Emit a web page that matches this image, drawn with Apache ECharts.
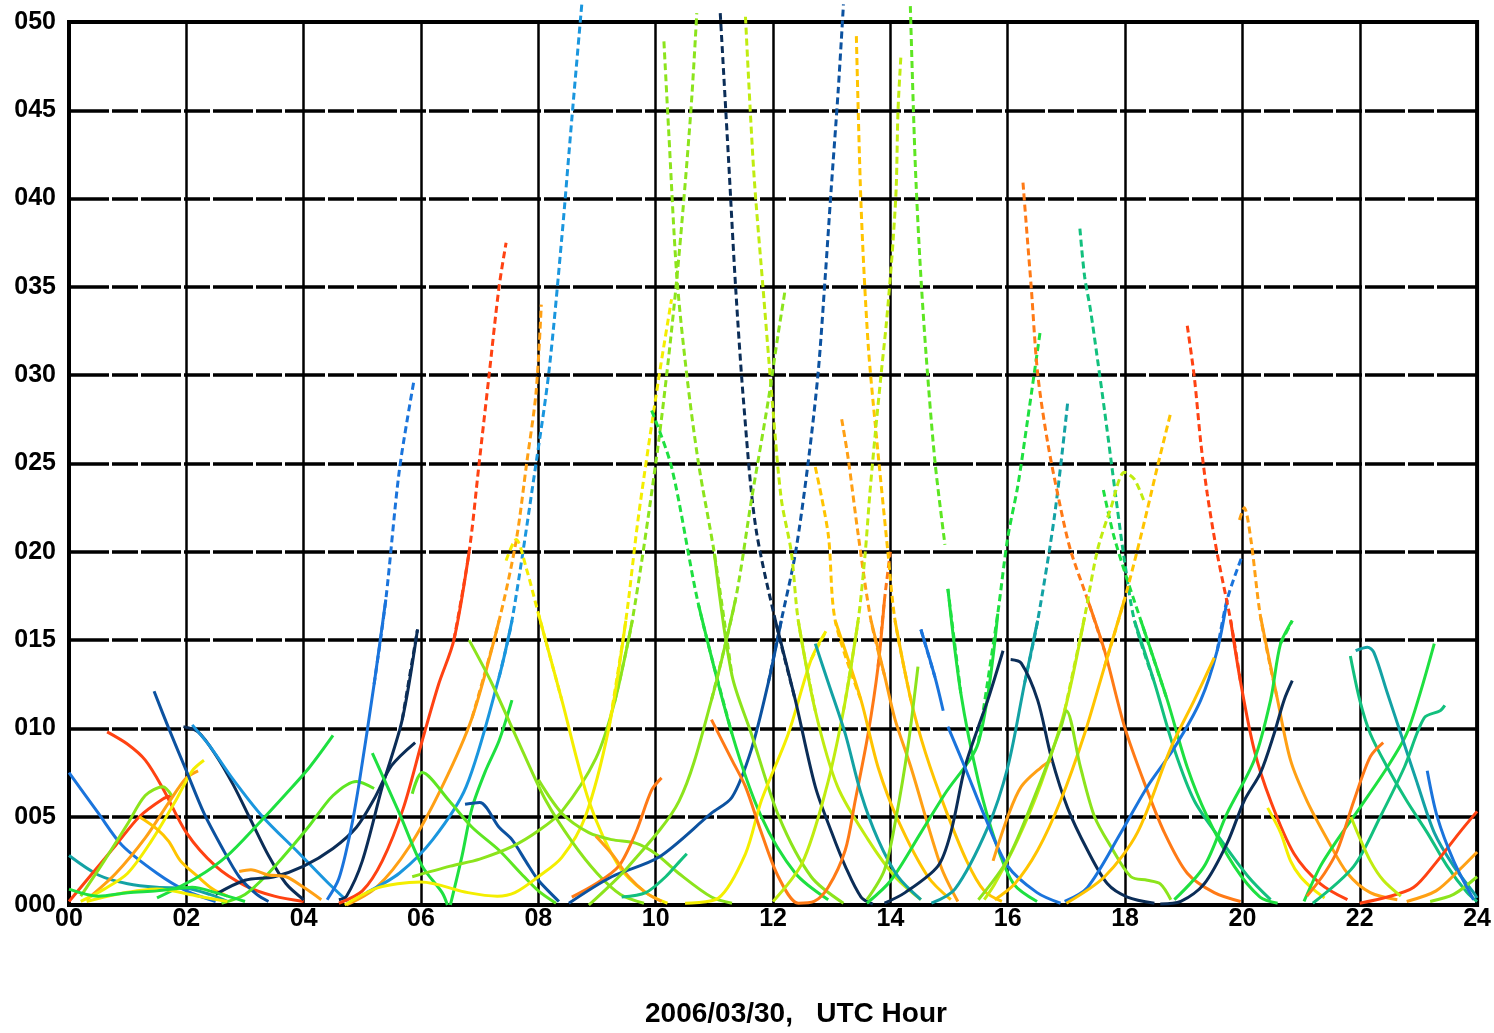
<!DOCTYPE html>
<html>
<head>
<meta charset="utf-8">
<script src="https://cdn.jsdelivr.net/npm/echarts@6/dist/echarts.min.js"></script>
<style>
  html, body { margin: 0; padding: 0; background: #fff; }
  #chart { width: 1494px; height: 1033px; }
</style>
</head>
<body>
<div id="chart"></div>
<script>
// tick labels
const xTicks = ['00', '02', '04', '06', '08', '10', '12', '14', '16', '18', '20', '22', '24']
const yTicks = ['000', '005', '010', '015', '020', '025', '030', '035', '040', '045', '050']
const axisTitle = '2006/03/30,   UTC Hour'

// tracks: [UTC hour, value]
// 00 - 04 h
const t01 = [[0, 7.5], [0.5, 5.2], [0.9, 3.4], [1.5, 1.8], [2, 0.8], [2.5, 0.2]]
const t02 = [[0, 2.8], [0.5, 1.7], [1, 1.2], [1.5, 1.0], [2, 0.95], [2.4, 0.6], [2.7, 0.2]]
const t03 = [[0.65, 9.8], [1.0, 9.1], [1.3, 8.2], [1.6, 6.6], [2.0, 4.1], [2.5, 2.2], [3.0, 1.1], [3.5, 0.5], [4.0, 0.2]]
const t04 = [[0, 0.2], [0.4, 1.8], [0.8, 3.4], [1.2, 5.0], [1.6, 6.0], [1.75, 6.2]]
const t05 = [[0.2, 0.5], [0.6, 2.5], [1.0, 4.6], [1.3, 6.2], [1.6, 6.7], [1.75, 6.2]]
const t06 = [[0.3, 0.3], [0.8, 1.8], [1.3, 3.8], [1.7, 5.8], [2.0, 7.2], [2.2, 7.6]]
const t07 = [[0.2, 0.2], [0.6, 0.9], [1.0, 1.8], [1.4, 3.6], [1.8, 5.8], [2.1, 7.6], [2.3, 8.2]]
const t08 = [[1.2, 5.0], [1.5, 4.3], [1.7, 3.6], [1.9, 2.5], [2.2, 1.6], [2.45, 0.9], [2.7, 0.5]]
const t09 = [[1.45, 12.1], [1.7, 10], [2.0, 7.6], [2.3, 5.2], [2.6, 3.3], [2.9, 1.6], [3.2, 0.6], [3.4, 0.2]]
const t10 = [[1.95, 10.1], [2.2, 9.8], [2.5, 8.5], [2.8, 6.8], [3.1, 4.8], [3.4, 2.8], [3.7, 1.2], [4.0, 0.3]]
const t11 = [[2.1, 10.2], [2.4, 9.0], [2.8, 7.1], [3.3, 5.0], [3.9, 3.0], [4.4, 1.3], [4.75, 0.2]]
const t12 = [[1.5, 0.4], [2.2, 1.6], [2.7, 2.8], [3.2, 4.5], [3.7, 6.3], [4.1, 7.8], [4.5, 9.6]]
const t13 = [[2.6, 0.1], [3.0, 0.6], [3.4, 1.8], [3.8, 3.3], [4.1, 4.5], [4.5, 6.2], [4.9, 7.0], [5.2, 6.6]]
const t14 = [[2.5, 0.6], [3.0, 1.4], [3.5, 1.6], [4.0, 2.2], [4.5, 3.2], [4.9, 4.4], [5.2, 6.0], [5.5, 7.9], [5.9, 9.2]]
const t15 = [[2.9, 1.9], [3.1, 2.0], [3.4, 1.7], [3.7, 1.6], [4.0, 1.0], [4.3, 0.3]]
const t16 = [[0.3, 0.2], [0.8, 0.6], [1.5, 0.9], [2.2, 0.5], [2.7, 0.2]]
const t17 = [[0, 0.9], [0.5, 0.5], [1.0, 0.7], [1.5, 0.8], [2.1, 1.0], [2.5, 0.7], [3.0, 0.2]]
// 04 - 10 h
const t18 = [[4.4, 0.3], [4.6, 1.5], [4.8, 4.2], [4.95, 7.0], [5.2, 12.5], [5.4, 17.3], [5.63, 24.6], [5.88, 29.7]]
const t19 = [[4.6, 0.3], [4.73, 0.5], [5.0, 2.5], [5.34, 6.7], [5.68, 10.5], [5.94, 15.6]]
const t20 = [[4.6, 0.1], [5.0, 0.8], [5.34, 2.5], [5.7, 5.5], [6.02, 9.3], [6.3, 12.5], [6.56, 15], [6.82, 20], [6.99, 25], [7.16, 30], [7.33, 35], [7.45, 37.5]]
const t21 = [[4.73, 0], [5.24, 1.0], [5.8, 3.3], [6.36, 6.7], [6.87, 10.6], [7.33, 16.1], [7.62, 20.6], [7.8, 25], [7.96, 29], [8.05, 34]]
const t22 = [[5.07, 0.7], [5.63, 1.8], [6.2, 3.7], [6.77, 6.7], [7.33, 12.9], [7.55, 16.1], [7.96, 25], [8.18, 30.2], [8.4, 37.8], [8.57, 44.5], [8.74, 51]]
const t23 = [[5.17, 8.6], [5.63, 5.2], [6.02, 2.2], [6.36, 0.7], [6.45, 0]]
const t24 = [[6.5, 0], [6.7, 2.8], [6.87, 5.5], [7.1, 7.6], [7.33, 9.3], [7.55, 11.6]]
const t25 = [[5.85, 6.3], [6.02, 7.5], [6.48, 5.9], [6.87, 4.4], [7.33, 3.1], [7.7, 1.8], [8.0, 0.8], [8.3, 0.1]]
const t26 = [[6.75, 5.7], [7.0, 5.8], [7.33, 4.4], [7.55, 3.7], [7.8, 2.4], [8.0, 1.4], [8.35, 0.2]]
const t27 = [[5.85, 1.6], [6.5, 2.2], [7.0, 2.6], [7.55, 3.3], [8.0, 4.2], [8.4, 5.3], [8.98, 8.3], [9.3, 11.5], [9.6, 16.1], [10.0, 25], [10.22, 31], [10.4, 36.9], [10.6, 45], [10.7, 50.5]]
const t28 = [[4.7, 0], [5.2, 0.9], [5.6, 1.2], [6.0, 1.3], [6.8, 0.7], [7.3, 0.5], [7.6, 0.7], [8.0, 1.6], [8.4, 2.7], [8.8, 5], [9.2, 10], [9.49, 16.1], [9.71, 22.1], [10.05, 29.8], [10.27, 34.3]]
const t29 = [[6.82, 15], [7.2, 12.6], [7.72, 8.8], [8.13, 5.9], [8.57, 3.6], [9.0, 1.8], [9.4, 0.6], [9.8, 0.1]]
const t30 = [[7.45, 19.5], [7.62, 20.7], [7.8, 19], [8.0, 16.5], [8.4, 11.6], [8.86, 5.9], [9.37, 2.2], [9.83, 0.7], [10.2, 0.1]]
const t31 = [[8.0, 7.1], [8.4, 5.2], [8.86, 4.1], [9.25, 3.7], [9.66, 3.5], [10.0, 2.9], [10.39, 1.8], [10.95, 0.45], [11.3, 0.1]]
const t32 = [[8.57, 0.45], [8.98, 1.2], [9.37, 2.2], [9.66, 4.1], [9.93, 6.5], [10.1, 7.2]]
const t33 = [[8.98, 3.9], [9.25, 2.9], [9.54, 1.6], [9.83, 0.7], [10.1, 0.2]]
const t34 = [[9.42, 0.45], [9.83, 0.7], [10.17, 1.6], [10.39, 2.4], [10.53, 2.9]]
// 08 - 16 h
const t35 = [[8.52, 0.1], [9.25, 1.6], [10.05, 2.7], [10.95, 5.2], [11.3, 6.1], [11.63, 8.8], [11.92, 12.6], [12.14, 16.1], [12.38, 19.9], [12.6, 25.1], [12.77, 30.2], [12.89, 35.6], [12.99, 40.5], [13.11, 46.1], [13.2, 51]]
const t36 = [[9.93, 28], [10.27, 24.8], [10.73, 17], [11.3, 9.7], [11.8, 5], [12.38, 1.8], [12.94, 0.3]]
const t37 = [[10.14, 48.9], [10.22, 43.9], [10.36, 35.6], [10.53, 30], [10.73, 25], [11.0, 19.9], [11.3, 13], [11.63, 9.7], [12.1, 5], [12.65, 1.6], [13.2, 0.1]]
const t38 = [[10.5, 0.1], [11.07, 0.4], [11.53, 2.9], [11.8, 5.9], [12.26, 9.7], [12.65, 13.9], [12.9, 15.5]]
const t39 = [[11.1, 50.5], [11.24, 42.3], [11.36, 35.1], [11.5, 28.4], [11.7, 21.5], [12.04, 16.1], [12.38, 11.6], [12.72, 6.7], [13.0, 4.1], [13.23, 2.2], [13.5, 0.45], [13.7, 0.05]]
const t40 = [[11.53, 50.3], [11.67, 41.6], [11.84, 34.5], [12.0, 28], [12.14, 23], [12.31, 20], [12.43, 16.1], [12.72, 11], [13.1, 6.7], [13.62, 3.7], [14.08, 1.6], [14.52, 0.3]]
const t41 = [[8.86, 0], [9.54, 2.2], [10.4, 5.9], [10.95, 11.6], [11.36, 17.3], [11.63, 22.9], [11.92, 28.6], [12.09, 32.4], [12.2, 34.7]]
const t42 = [[10.95, 10.5], [11.3, 8.2], [11.53, 6.7], [11.8, 4.1], [12.09, 1.6], [12.43, 0.1], [12.7, 0.2], [12.94, 1.0], [13.23, 3.1], [13.4, 5.9], [13.62, 9.7], [13.79, 13.5], [13.9, 17.3], [14.0, 20]]
const t43 = [[12.72, 24.8], [12.94, 21], [13.06, 16.1], [13.5, 11.6], [13.79, 7.8], [14.13, 4.8], [14.64, 1.6], [15.03, 0.3]]
const t44 = [[13.17, 27.5], [13.28, 25.3], [13.45, 21], [13.67, 16.1], [13.9, 13], [14.08, 10.5], [14.35, 7.8], [14.86, 2.2], [15.15, 0.2]]
const t45 = [[13.42, 49.2], [13.5, 39.6], [13.62, 31.8], [13.76, 26.6], [13.96, 19.9], [14.08, 16.1], [14.35, 11.6], [14.6, 8.6], [14.93, 5.5], [15.3, 2.5], [15.6, 0.8], [15.9, 0.2]]
const t46 = [[12.0, 0.2], [12.5, 2.4], [12.9, 6.5], [13.2, 11], [13.45, 16.1], [13.57, 19.9], [13.65, 23.3], [13.74, 26.6], [13.84, 30], [13.93, 32.9], [14.0, 35.6], [14.05, 37.8], [14.1, 40.7], [14.13, 45], [14.18, 48.1]]
const t47 = [[14.34, 50.9], [14.42, 42.3], [14.5, 36.7], [14.61, 31.1], [14.76, 25.1], [14.93, 20.4]]
const t48 = [[13.6, 0.1], [14.01, 1.4], [14.52, 4.1], [14.93, 6.3], [15.5, 9.2], [15.83, 16.5], [16.0, 20.8], [16.17, 23.7], [16.34, 27.5], [16.55, 32.4]]
const t49 = [[14.98, 17.9], [15.2, 12], [15.5, 7], [15.8, 3.5], [16.1, 1.2], [16.5, 0.2]]
const t50 = [[12.72, 14.8], [12.94, 12.6], [13.23, 9.7], [13.5, 6.3], [13.79, 3.7], [14.13, 1.6], [14.52, 0.3]]
const t51 = [[14.7, 0.1], [15.1, 0.9], [15.66, 4.4], [16.0, 7.8], [16.29, 12.6], [16.51, 16.1], [16.8, 22.1], [17.02, 28.4]]
const t52 = [[13.9, 0.1], [14.25, 0.7], [14.81, 2.2], [15.03, 4.1], [15.27, 7.8], [15.5, 10.1], [15.66, 11.6], [15.92, 14.4]]
const t53 = [[16.05, 13.9], [16.23, 13.7], [16.51, 11.6], [16.74, 8.4], [17.02, 5.5], [17.36, 3.1], [17.7, 1.2], [18.04, 0.45], [18.5, 0.1]]
const t54 = [[14.52, 15.6], [14.76, 12.9], [14.9, 11]]
const t55 = [[14.98, 10.1], [15.27, 7.8], [15.61, 5.0], [16.0, 2.2], [16.5, 0.7], [16.9, 0.1]]
const t56 = [[13.6, 0.3], [13.9, 2.0], [14.1, 5], [14.3, 9], [14.47, 13.5]]
// 16 - 24 h
const t57 = [[16.26, 40.9], [16.34, 37.5], [16.4, 35], [16.51, 30.1], [16.68, 26.2], [16.9, 22.5], [17.07, 20.1], [17.36, 17.3], [17.65, 14.4], [17.99, 10.1], [18.33, 6.9], [18.67, 4.1], [19.06, 1.8], [19.52, 0.7], [19.97, 0.2]]
const t58 = [[17.23, 38.3], [17.31, 35.6], [17.41, 33.7], [17.53, 30.9], [17.65, 28], [17.76, 25.2], [17.87, 22.4], [17.99, 19.5], [18.16, 16.1], [18.5, 12.6], [18.84, 8.8], [19.18, 5.9], [19.63, 3.7], [20.1, 1.6], [20.48, 0.3]]
const t59 = [[17.63, 23.5], [17.8, 21], [18.0, 18.8], [18.27, 16.1], [18.72, 11.6], [19.06, 7.8], [19.4, 5], [19.86, 2.2], [20.3, 0.45], [20.6, 0.1]]
const t60 = [[15.6, 0.3], [15.78, 1.2], [16.17, 3.7], [16.57, 6.9], [16.97, 11], [17.31, 16.3], [17.53, 20.1], [17.76, 22.5], [17.99, 24.5], [18.16, 24.1], [18.33, 22.8]]
const t61 = [[15.78, 0.3], [16.12, 1.2], [16.51, 3.1], [16.9, 5.9], [17.31, 9.7], [17.65, 13.5], [17.99, 17.3], [18.21, 20.1], [18.38, 22.4], [18.55, 24.8], [18.78, 27.9]]
const t62 = [[15.75, 2.5], [16.0, 5.0], [16.23, 6.7], [16.57, 7.8], [16.74, 8.2]]
const t63 = [[15.5, 0.3], [16.0, 2.6], [16.5, 6.5], [16.9, 10], [17.0, 11], [17.24, 7.8], [17.48, 5.0], [17.76, 3.3], [18.1, 1.6], [18.38, 1.4], [18.6, 1.2], [18.78, 0.3]]
const t64 = [[16.97, 0.2], [17.36, 1.0], [17.93, 4.1], [18.38, 6.7], [18.84, 8.9], [19.29, 11.6], [19.57, 14.4], [19.74, 17.3], [20.0, 19.8]]
const t65 = [[17.0, 0.1], [17.65, 1.6], [18.21, 4.1], [18.78, 8.9], [19.18, 11.6], [19.52, 14.0]]
const t66 = [[19.06, 32.8], [19.18, 29.9], [19.29, 26.2], [19.4, 23.3], [19.57, 19.9], [19.8, 16.1], [19.97, 12.6], [20.2, 8.8], [20.48, 5.9], [20.88, 2.9], [21.33, 1.2], [21.79, 0.3]]
const t67 = [[19.95, 21.8], [20.03, 22.5], [20.14, 20.8], [20.31, 16.3], [20.6, 11.6], [20.82, 8.2], [21.1, 5.9], [21.45, 3.7], [21.79, 1.8], [22.18, 0.7], [22.64, 0.3]]
const t68 = [[18.6, 0.05], [18.95, 0.2], [19.35, 1.2], [19.74, 3.5], [20.03, 5.9], [20.31, 7.5], [20.54, 9.7], [20.71, 11.6], [20.85, 12.7]]
const t69 = [[18.84, 0.3], [19.35, 2.2], [19.74, 5.2], [20.2, 8.2], [20.48, 11.6], [20.65, 14.8], [20.85, 16.1]]
const t70 = [[20.43, 5.5], [20.65, 4.1], [20.82, 2.5], [20.99, 1.6], [21.22, 0.85], [21.4, 0.4]]
const t71 = [[21.05, 0.2], [21.33, 2.2], [21.62, 3.7], [22.0, 5.5], [22.47, 7.8], [22.8, 9.7], [23.03, 12], [23.27, 14.8]]
const t72 = [[21.93, 14.4], [22.13, 14.6], [22.24, 14.3], [22.47, 12], [22.7, 9.7], [22.98, 6.9], [23.27, 4.1], [23.6, 2.2], [23.94, 0.7], [24, 0.4]]
const t73 = [[21.84, 14.1], [22.0, 11.6], [22.18, 9.7], [22.47, 7.8], [22.8, 5.9], [23.15, 4.1], [23.49, 2.2], [23.83, 0.7], [24, 0.2]]
const t74 = [[21.2, 0.1], [21.9, 2.2], [22.35, 5], [22.76, 7.8], [23.1, 10.6], [23.37, 11.0], [23.45, 11.3]]
const t75 = [[21.1, 0.5], [21.4, 1.8], [21.62, 3.1], [21.9, 5.9], [22.18, 8.4], [22.4, 9.2]]
const t76 = [[22.0, 0.1], [22.47, 0.45], [22.92, 1.0], [23.3, 2.4], [23.7, 4.1], [24, 5.3]]
const t77 = [[22.8, 0.2], [23.3, 0.8], [23.7, 2.0], [24, 3.0]]
const t78 = [[23.2, 0.2], [23.6, 0.6], [24, 1.6]]
const t79 = [[23.15, 7.6], [23.32, 5.0], [23.6, 2.5], [23.94, 0.3]]
const t80 = [[21.85, 5.0], [21.96, 4.1], [22.18, 2.5], [22.4, 1.4], [22.7, 0.5]]

const tracks = [
  t01, t02, t03, t04, t05, t06, t07, t08, t09, t10, t11, t12, t13, t14, t15, t16, t17, t18, t19, t20,
  t21, t22, t23, t24, t25, t26, t27, t28, t29, t30, t31, t32, t33, t34, t35, t36, t37, t38, t39, t40,
  t41, t42, t43, t44, t45, t46, t47, t48, t49, t50, t51, t52, t53, t54, t55, t56, t57, t58, t59, t60,
  t61, t62, t63, t64, t65, t66, t67, t68, t69, t70, t71, t72, t73, t74, t75, t76, t77, t78, t79, t80
]

// colours, same order as tracks
const NAVY = '#0b2d57', DBLUE = '#0c52a0', BLUE = '#1a74dc', LBLUE = '#1a96de', TEAL = '#13a2a4'
const TGREEN = '#12c07e', GREEN = '#1ee040', BGREEN = '#5ee622', LIME = '#8ce41c', YGREEN = '#c0ec10'
const YELLOW = '#f4ee00', GOLD = '#ffc400', ORANGE = '#ffa014', DORANGE = '#ff7a16', RED = '#ff4212'
const trackColors = [
  BLUE, TEAL, RED, RED, LIME, ORANGE, YELLOW, GOLD, DBLUE, NAVY, LBLUE, GREEN, BGREEN, NAVY, ORANGE, YELLOW, GREEN, BLUE, NAVY, RED,
  ORANGE, LBLUE, GREEN, GREEN, BGREEN, DBLUE, LIME, YELLOW, LIME, YELLOW, LIME, DORANGE, ORANGE, TGREEN, DBLUE, GREEN, LIME, YELLOW, NAVY, YGREEN,
  LIME, DORANGE, GOLD, ORANGE, GOLD, YGREEN, BGREEN, GREEN, GREEN, TEAL, TEAL, NAVY, NAVY, BLUE, BLUE, LIME, DORANGE, TGREEN, GREEN, YGREEN,
  GOLD, ORANGE, LIME, BLUE, GOLD, RED, ORANGE, NAVY, GREEN, YELLOW, GREEN, TEAL, TGREEN, TGREEN, DORANGE, RED, ORANGE, LIME, BLUE, YGREEN
]

// above this value the sparse samples show up as a broken line
const DOTTED_ABOVE = 15

const labelFont = {
  color: '#000',
  fontFamily: 'Liberation Sans',
  fontWeight: 'bold',
  fontSize: 25
}

// split a track into its low (solid) and high (broken) runs
function splitTrack(pts) {
  const low = [], high = []
  for (let i = 0; i < pts.length; i++) {
    const y = pts[i][1]
    const prev = i > 0 ? pts[i - 1][1] : y
    const next = i < pts.length - 1 ? pts[i + 1][1] : y
    if (y <= DOTTED_ABOVE || (prev <= DOTTED_ABOVE && i > 0) || (next <= DOTTED_ABOVE && i < pts.length - 1)) {
      low.push(y <= DOTTED_ABOVE || prev <= DOTTED_ABOVE || next <= DOTTED_ABOVE ? pts[i] : null)
    } else {
      low.push(null)
    }
    high.push(y > DOTTED_ABOVE || prev > DOTTED_ABOVE || next > DOTTED_ABOVE ? pts[i] : null)
  }
  return {
    low: low.map((p, i) => p || [pts[i][0], null]),
    high: high.map((p, i) => p || [pts[i][0], null])
  }
}

const series = []
tracks.forEach((pts, i) => {
  const parts = splitTrack(pts)
  const base = {
    type: 'line',
    smooth: 0.3,
    symbol: 'none',
    clip: false,
    silent: true,
    connectNulls: false
  }
  series.push({ ...base, data: parts.low, lineStyle: { color: trackColors[i], width: 3 } })
  series.push({ ...base, data: parts.high, lineStyle: { color: trackColors[i], width: 3, type: [7, 4] } })
})

const myChart = echarts.init(document.getElementById('chart'), null, { renderer: 'canvas' })

const option = {
  animation: false,
  backgroundColor: '#fff',
  title: {
    text: axisTitle,
    left: 640,
    top: 995,
    textStyle: {
      color: '#000',
      fontFamily: 'Liberation Sans',
      fontWeight: 'bold',
      fontSize: 28
    }
  },
  grid: {
    left: 69,
    right: 14,
    top: 22,
    bottom: 128,
    show: true,
    borderColor: '#000',
    borderWidth: 4
  },
  xAxis: {
    type: 'value',
    min: 0,
    max: 24,
    interval: 2,
    axisLine: { show: false },
    axisTick: { show: false },
    axisLabel: {
      ...labelFont,
      margin: 2,
      formatter: v => xTicks[v / 2]
    },
    splitLine: {
      show: true,
      lineStyle: { color: '#000', width: 2.5 }
    }
  },
  yAxis: {
    type: 'value',
    min: 0,
    max: 50,
    interval: 5,
    axisLine: { show: false },
    axisTick: { show: false },
    axisLabel: {
      ...labelFont,
      margin: 13,
      formatter: v => yTicks[v / 5]
    },
    splitLine: {
      show: true,
      lineStyle: { color: '#000', width: 3.5, type: [40, 3, 26, 3] }
    }
  },
  series: series
}

myChart.setOption(option)
</script>
</body>
</html>
